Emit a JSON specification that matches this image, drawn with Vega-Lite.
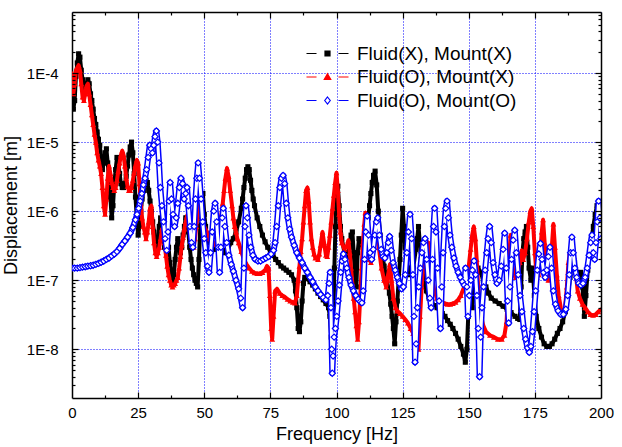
{
"$schema": "https://vega.github.io/schema/vega-lite/v6.json",
"width": 529, "height": 386,
"autosize": {"type": "none"},
"padding": {"left": 72, "top": 12, "right": 21, "bottom": 49},
"config": {"view": {"stroke": null}, "font": "Liberation Sans", "axis": {"labelColor": "black", "titleColor": "black", "tickColor": "black", "domainColor": "black", "titleFontWeight": "normal"}},
"datasets": {
"black": [
{"f":0,"v":5e-5},{"f":0.5,"v":3e-5},{"f":1,"v":4e-5},{"f":1.5,"v":9e-5},{"f":2,"v":1.4e-4},{"f":2.5,"v":1.9e-4},{"f":3,"v":1.7e-4},{"f":3.5,"v":1.1e-4},{"f":4,"v":8e-5},{"f":4.5,"v":6e-5},{"f":5,"v":5.5e-5},{"f":5.5,"v":7e-5},{"f":6,"v":8e-5},{"f":6.5,"v":7e-5},{"f":7,"v":5e-5},{"f":7.5,"v":4e-5},{"f":8,"v":3e-5},{"f":8.5,"v":2.2e-5},{"f":9,"v":1.8e-5},{"f":9.5,"v":1.4e-5},{"f":10,"v":1.1e-5},{"f":10.5,"v":9e-6},{"f":11,"v":6e-6},{"f":11.5,"v":4e-6},{"f":12,"v":5e-6},{"f":12.5,"v":7e-6},{"f":13,"v":8e-6},{"f":13.5,"v":5e-6},{"f":14,"v":3e-6},{"f":14.5,"v":1.6e-6},{"f":15,"v":8e-7},{"f":15.5,"v":1.2e-6},{"f":16,"v":2.5e-6},{"f":16.5,"v":4e-6},{"f":17,"v":6e-6},{"f":17.5,"v":5e-6},{"f":18,"v":3.5e-6},{"f":18.5,"v":2.5e-6},{"f":19,"v":2.2e-6},{"f":19.5,"v":2.2e-6},{"f":20,"v":2.5e-6},{"f":20.5,"v":3.2e-6},{"f":21,"v":4.5e-6},{"f":21.5,"v":6.5e-6},{"f":22,"v":8.5e-6},{"f":22.5,"v":1e-5},{"f":23,"v":7e-6},{"f":23.5,"v":3.5e-6},{"f":24,"v":1.6e-6},{"f":24.5,"v":8e-7},{"f":25,"v":4.5e-7},{"f":25.5,"v":6e-7},{"f":26,"v":1e-6},{"f":26.5,"v":1.5e-6},{"f":27,"v":2e-6},{"f":27.5,"v":2.5e-6},{"f":28,"v":2.8e-6},{"f":28.5,"v":2.6e-6},{"f":29,"v":2e-6},{"f":29.5,"v":1.4e-6},{"f":30,"v":1e-6},{"f":30.5,"v":7e-7},{"f":31,"v":5e-7},{"f":31.5,"v":3.5e-7},{"f":32,"v":3e-7},{"f":32.5,"v":4e-7},{"f":33,"v":6e-7},{"f":33.5,"v":8e-7},{"f":34,"v":6e-7},{"f":34.5,"v":4e-7},{"f":35,"v":3e-7},{"f":35.5,"v":3.5e-7},{"f":36,"v":4.5e-7},{"f":36.5,"v":3e-7},{"f":37,"v":1.8e-7},{"f":37.5,"v":1.2e-7},{"f":38,"v":9e-8},{"f":38.5,"v":1.2e-7},{"f":39,"v":2e-7},{"f":39.5,"v":3e-7},{"f":40,"v":4e-7},{"f":40.5,"v":3e-7},{"f":41,"v":2.5e-7},{"f":41.5,"v":3e-7},{"f":42,"v":4.5e-7},{"f":42.5,"v":6e-7},{"f":43,"v":8e-7},{"f":43.5,"v":8e-7},{"f":44,"v":5e-7},{"f":44.5,"v":3e-7},{"f":45,"v":2e-7},{"f":45.5,"v":1.5e-7},{"f":46,"v":1.2e-7},{"f":46.5,"v":1e-7},{"f":47,"v":9e-8},{"f":47.5,"v":8e-8},{"f":48,"v":2e-7},{"f":48.5,"v":6e-7},{"f":49,"v":1.6e-6},{"f":49.5,"v":1.8e-6},{"f":50,"v":9e-7},{"f":50.5,"v":6e-7},{"f":51,"v":4.5e-7},{"f":52,"v":3.5e-7},{"f":53,"v":3e-7},{"f":54,"v":2.8e-7},{"f":55,"v":2.8e-7},{"f":56,"v":2.8e-7},{"f":57,"v":2.7e-7},{"f":58,"v":2.5e-7},{"f":59,"v":2.8e-7},{"f":60,"v":3.5e-7},{"f":61,"v":4e-7},{"f":62,"v":5e-7},{"f":63,"v":7e-7},{"f":64,"v":1.1e-6},{"f":64.5,"v":1.5e-6},{"f":65,"v":2.2e-6},{"f":65.5,"v":3e-6},{"f":66,"v":4e-6},{"f":66.5,"v":4.4e-6},{"f":67,"v":4e-6},{"f":67.5,"v":2.8e-6},{"f":68,"v":2e-6},{"f":68.5,"v":1.5e-6},{"f":69,"v":1.2e-6},{"f":70,"v":8e-7},{"f":71,"v":6e-7},{"f":72,"v":4.5e-7},{"f":73,"v":3.6e-7},{"f":74,"v":3e-7},{"f":75,"v":2.6e-7},{"f":76,"v":2.3e-7},{"f":77,"v":2e-7},{"f":78,"v":1.8e-7},{"f":79,"v":1.6e-7},{"f":80,"v":1.5e-7},{"f":81,"v":1.4e-7},{"f":82,"v":1.3e-7},{"f":83,"v":1.2e-7},{"f":84,"v":1e-7},{"f":84.5,"v":7e-8},{"f":85,"v":4e-8},{"f":85.5,"v":2e-8},{"f":86,"v":1.8e-8},{"f":86.5,"v":2.5e-8},{"f":87,"v":5e-8},{"f":87.5,"v":9e-8},{"f":88,"v":1.1e-7},{"f":89,"v":1.05e-7},{"f":90,"v":9.5e-8},{"f":91,"v":8.5e-8},{"f":92,"v":7.5e-8},{"f":93,"v":6.5e-8},{"f":94,"v":5.8e-8},{"f":95,"v":5.2e-8},{"f":96,"v":4.6e-8},{"f":97,"v":4e-8},{"f":97.5,"v":3e-8},{"f":98,"v":1.5e-8},{"f":98.4,"v":8e-9},{"f":98.8,"v":3e-8},{"f":99.2,"v":1.5e-7},{"f":99.6,"v":6e-7},{"f":100,"v":1.4e-6},{"f":100.5,"v":2.3e-6},{"f":101,"v":1.2e-6},{"f":101.5,"v":6e-7},{"f":102,"v":4e-7},{"f":103,"v":2.5e-7},{"f":104,"v":2.2e-7},{"f":105,"v":3e-7},{"f":105.5,"v":4.5e-7},{"f":106,"v":5e-7},{"f":106.5,"v":2.5e-7},{"f":107,"v":1.2e-7},{"f":107.5,"v":8e-8},{"f":108,"v":2.5e-7},{"f":108.5,"v":4e-7},{"f":109,"v":3.5e-7},{"f":110,"v":3e-7},{"f":110.5,"v":3.5e-7},{"f":111,"v":4.5e-7},{"f":111.5,"v":6e-7},{"f":112,"v":8e-7},{"f":112.5,"v":1.2e-6},{"f":113,"v":1.8e-6},{"f":113.5,"v":2.6e-6},{"f":114,"v":3.3e-6},{"f":114.6,"v":3.8e-6},{"f":115.2,"v":2.4e-6},{"f":115.8,"v":1e-6},{"f":116.5,"v":4.5e-7},{"f":117,"v":2.8e-7},{"f":118,"v":1.6e-7},{"f":119,"v":1e-7},{"f":120,"v":6.5e-8},{"f":120.5,"v":4.5e-8},{"f":121,"v":3e-8},{"f":121.5,"v":2e-8},{"f":122,"v":1.2e-8},{"f":122.5,"v":2.5e-8},{"f":123,"v":5e-8},{"f":123.5,"v":1e-7},{"f":124,"v":2e-7},{"f":124.5,"v":4.5e-7},{"f":125,"v":1.1e-6},{"f":125.5,"v":6e-7},{"f":126,"v":3e-7},{"f":126.5,"v":2e-7},{"f":127,"v":1.5e-7},{"f":128,"v":1.2e-7},{"f":129,"v":1.5e-7},{"f":130,"v":2.8e-7},{"f":130.5,"v":4e-7},{"f":131,"v":6e-7},{"f":131.5,"v":3.5e-7},{"f":132,"v":2e-7},{"f":132.5,"v":1.4e-7},{"f":133,"v":1e-7},{"f":134,"v":7e-8},{"f":135,"v":5.5e-8},{"f":136,"v":4.8e-8},{"f":137,"v":4.3e-8},{"f":138,"v":4e-8},{"f":139,"v":3.6e-8},{"f":140,"v":3.3e-8},{"f":141,"v":3e-8},{"f":142,"v":2.6e-8},{"f":143,"v":2.3e-8},{"f":144,"v":2e-8},{"f":145,"v":1.7e-8},{"f":146,"v":1.4e-8},{"f":147,"v":1.1e-8},{"f":148,"v":8.5e-9},{"f":148.7,"v":6.5e-9},{"f":149.3,"v":1e-8},{"f":149.8,"v":3e-8},{"f":150.3,"v":9e-8},{"f":150.8,"v":6e-8},{"f":151.3,"v":4e-8},{"f":152,"v":7e-8},{"f":152.7,"v":1.2e-7},{"f":153.5,"v":1.5e-7},{"f":154.5,"v":1.3e-7},{"f":155.5,"v":1e-7},{"f":156.5,"v":8e-8},{"f":157.5,"v":6.5e-8},{"f":158.5,"v":5.5e-8},{"f":160,"v":5e-8},{"f":161.5,"v":4.6e-8},{"f":163,"v":4.2e-8},{"f":164.5,"v":3.8e-8},{"f":166,"v":3.4e-8},{"f":167.5,"v":3e-8},{"f":168.5,"v":2.8e-8},{"f":169.3,"v":2.7e-8},{"f":169.8,"v":8e-8},{"f":170.3,"v":2.5e-7},{"f":170.8,"v":4e-7},{"f":171.3,"v":5e-7},{"f":171.8,"v":6e-7},{"f":172.3,"v":3e-7},{"f":172.8,"v":1.5e-7},{"f":173.5,"v":1e-7},{"f":174.2,"v":1.5e-7},{"f":174.8,"v":6e-8},{"f":175.5,"v":3e-8},{"f":176.5,"v":2e-8},{"f":177.5,"v":1.5e-8},{"f":178.5,"v":1.2e-8},{"f":179.5,"v":1.1e-8},{"f":180.5,"v":1.1e-8},{"f":181.5,"v":1.2e-8},{"f":182.5,"v":1.4e-8},{"f":183.5,"v":1.7e-8},{"f":184.5,"v":2e-8},{"f":185.5,"v":2.5e-8},{"f":186.5,"v":3.5e-8},{"f":187.5,"v":6e-8},{"f":188.3,"v":1.1e-7},{"f":189,"v":1.8e-7},{"f":189.5,"v":2.3e-7},{"f":190,"v":1.8e-7},{"f":190.8,"v":1.3e-7},{"f":191.5,"v":1.1e-7},{"f":192.3,"v":1.3e-7},{"f":193,"v":8e-8},{"f":193.7,"v":3e-8},{"f":194.3,"v":6e-8},{"f":195,"v":1.4e-7},{"f":195.7,"v":2.5e-7},{"f":196.4,"v":4e-7},{"f":197.1,"v":6e-7},{"f":197.8,"v":9e-7},{"f":198.5,"v":1.2e-6},{"f":199.1,"v":1.3e-6},{"f":199.6,"v":9e-7},{"f":200,"v":6e-7}
],
"red": [
{"f":0,"v":1e-4},{"f":0.5,"v":5e-5},{"f":1,"v":7e-5},{"f":1.5,"v":1.1e-4},{"f":2,"v":1.2e-4},{"f":2.5,"v":1.3e-4},{"f":3,"v":1.1e-4},{"f":3.5,"v":7e-5},{"f":4,"v":4.5e-5},{"f":4.5,"v":4e-5},{"f":5,"v":5e-5},{"f":5.5,"v":6.5e-5},{"f":6,"v":7e-5},{"f":6.5,"v":5e-5},{"f":7,"v":3.5e-5},{"f":7.5,"v":2.5e-5},{"f":8,"v":1.8e-5},{"f":8.5,"v":1.3e-5},{"f":9,"v":1e-5},{"f":9.5,"v":7e-6},{"f":10,"v":5.5e-6},{"f":10.5,"v":4.5e-6},{"f":11,"v":3.5e-6},{"f":11.5,"v":2.2e-6},{"f":12,"v":1.2e-6},{"f":12.5,"v":9e-7},{"f":13,"v":1.5e-6},{"f":13.5,"v":3e-6},{"f":14,"v":4.5e-6},{"f":14.5,"v":3.5e-6},{"f":15,"v":2.6e-6},{"f":15.5,"v":2.2e-6},{"f":16,"v":2e-6},{"f":16.5,"v":2.2e-6},{"f":17,"v":2.8e-6},{"f":17.5,"v":3.8e-6},{"f":18,"v":5e-6},{"f":18.5,"v":6.5e-6},{"f":19,"v":7.5e-6},{"f":19.5,"v":6.5e-6},{"f":20,"v":4.5e-6},{"f":20.5,"v":3e-6},{"f":21,"v":2.3e-6},{"f":21.5,"v":2e-6},{"f":22,"v":2e-6},{"f":22.5,"v":2.2e-6},{"f":23,"v":2.8e-6},{"f":23.5,"v":3.6e-6},{"f":24,"v":4.6e-6},{"f":24.5,"v":5.5e-6},{"f":25,"v":5e-6},{"f":25.5,"v":2.5e-6},{"f":26,"v":1.3e-6},{"f":26.5,"v":8e-7},{"f":27,"v":6e-7},{"f":27.5,"v":5e-7},{"f":28,"v":4e-7},{"f":28.5,"v":5e-7},{"f":29,"v":7e-7},{"f":29.5,"v":1.1e-6},{"f":30,"v":1.2e-6},{"f":30.5,"v":6e-7},{"f":31,"v":3.5e-7},{"f":31.5,"v":2.5e-7},{"f":32,"v":2.2e-7},{"f":32.5,"v":2.5e-7},{"f":33,"v":3e-7},{"f":33.5,"v":4e-7},{"f":34,"v":5.5e-7},{"f":34.5,"v":5e-7},{"f":35,"v":3.5e-7},{"f":35.5,"v":2.3e-7},{"f":36,"v":1.6e-7},{"f":36.5,"v":1.2e-7},{"f":37,"v":1e-7},{"f":37.5,"v":8.5e-8},{"f":38,"v":8e-8},{"f":38.5,"v":8.5e-8},{"f":39,"v":9e-8},{"f":39.5,"v":1e-7},{"f":40,"v":1.1e-7},{"f":40.5,"v":1.5e-7},{"f":41,"v":2.2e-7},{"f":41.5,"v":3.2e-7},{"f":42,"v":4.2e-7},{"f":42.5,"v":5.5e-7},{"f":43,"v":7e-7},{"f":43.5,"v":8.5e-7},{"f":44,"v":9.5e-7},{"f":44.5,"v":8e-7},{"f":45,"v":5e-7},{"f":45.5,"v":3.5e-7},{"f":46,"v":3e-7},{"f":46.5,"v":4e-7},{"f":47,"v":6e-7},{"f":47.5,"v":1e-6},{"f":48,"v":1.6e-6},{"f":48.5,"v":1.2e-6},{"f":49,"v":8e-7},{"f":49.5,"v":6.5e-7},{"f":50,"v":6e-7},{"f":50.5,"v":5.5e-7},{"f":51,"v":5e-7},{"f":52,"v":4e-7},{"f":53,"v":3.3e-7},{"f":54,"v":3.3e-7},{"f":55,"v":4e-7},{"f":55.5,"v":5e-7},{"f":56,"v":6.5e-7},{"f":56.5,"v":9e-7},{"f":57,"v":1.3e-6},{"f":57.5,"v":2e-6},{"f":58,"v":3e-6},{"f":58.6,"v":4.2e-6},{"f":59.2,"v":3.2e-6},{"f":59.8,"v":2e-6},{"f":60.5,"v":1.2e-6},{"f":61,"v":8e-7},{"f":61.5,"v":6e-7},{"f":62,"v":5e-7},{"f":62.5,"v":4e-7},{"f":63,"v":3.5e-7},{"f":64,"v":2.6e-7},{"f":65,"v":2e-7},{"f":66,"v":1.7e-7},{"f":67,"v":1.5e-7},{"f":68,"v":1.35e-7},{"f":69,"v":1.28e-7},{"f":70,"v":1.25e-7},{"f":71,"v":1.25e-7},{"f":72,"v":1.3e-7},{"f":73,"v":1.4e-7},{"f":73.7,"v":1.6e-7},{"f":74.3,"v":1.5e-7},{"f":74.8,"v":6e-8},{"f":75.3,"v":2e-8},{"f":75.7,"v":1.4e-8},{"f":76.2,"v":3e-8},{"f":76.8,"v":7e-8},{"f":77.5,"v":7.5e-8},{"f":78.5,"v":6.5e-8},{"f":79.5,"v":6e-8},{"f":80.5,"v":5.7e-8},{"f":81.5,"v":5.3e-8},{"f":82.5,"v":5e-8},{"f":83.5,"v":4.8e-8},{"f":84.3,"v":4.7e-8},{"f":85,"v":6e-8},{"f":85.5,"v":1e-7},{"f":86,"v":1.6e-7},{"f":86.5,"v":2.6e-7},{"f":87,"v":4e-7},{"f":87.5,"v":7e-7},{"f":88,"v":1.2e-6},{"f":88.5,"v":2e-6},{"f":89,"v":2.2e-6},{"f":89.5,"v":1.4e-6},{"f":90,"v":7e-7},{"f":90.5,"v":4e-7},{"f":91,"v":3e-7},{"f":91.5,"v":2.4e-7},{"f":92,"v":2.1e-7},{"f":93,"v":2e-7},{"f":93.5,"v":2.4e-7},{"f":94,"v":3.2e-7},{"f":94.7,"v":5e-7},{"f":95.3,"v":3.5e-7},{"f":96,"v":2.3e-7},{"f":96.5,"v":2.2e-7},{"f":97,"v":3e-7},{"f":97.5,"v":4.5e-7},{"f":98,"v":7e-7},{"f":98.5,"v":1.1e-6},{"f":99,"v":1.7e-6},{"f":99.5,"v":2.6e-6},{"f":100,"v":3.6e-6},{"f":100.5,"v":2e-6},{"f":101,"v":9e-7},{"f":101.5,"v":5e-7},{"f":102,"v":3.5e-7},{"f":103,"v":2.8e-7},{"f":104,"v":3.2e-7},{"f":104.5,"v":3.8e-7},{"f":105,"v":2.5e-7},{"f":105.5,"v":1.5e-7},{"f":106,"v":9e-8},{"f":106.5,"v":5.5e-8},{"f":107,"v":3.5e-8},{"f":107.5,"v":2.2e-8},{"f":108,"v":1.4e-8},{"f":108.5,"v":2.5e-8},{"f":109,"v":6e-8},{"f":109.5,"v":1.5e-7},{"f":110,"v":3.5e-7},{"f":110.5,"v":6.5e-7},{"f":110.9,"v":9.5e-7},{"f":111.4,"v":6e-7},{"f":112,"v":3e-7},{"f":112.5,"v":2e-7},{"f":113,"v":1.8e-7},{"f":113.5,"v":2.2e-7},{"f":114,"v":3.5e-7},{"f":114.5,"v":5.5e-7},{"f":115,"v":7.5e-7},{"f":115.5,"v":5e-7},{"f":116,"v":3e-7},{"f":117,"v":1.5e-7},{"f":118,"v":1e-7},{"f":118.8,"v":8e-8},{"f":119.5,"v":1.2e-7},{"f":120.2,"v":1.7e-7},{"f":120.8,"v":1e-7},{"f":121.5,"v":5.5e-8},{"f":122.3,"v":4e-8},{"f":123,"v":3.6e-8},{"f":124,"v":3.3e-8},{"f":125,"v":3e-8},{"f":126,"v":2.7e-8},{"f":127,"v":2.4e-8},{"f":128,"v":2e-8},{"f":129,"v":1.7e-8},{"f":130,"v":1.3e-8},{"f":131,"v":1e-8},{"f":131.6,"v":3e-8},{"f":132.2,"v":8e-8},{"f":132.8,"v":1.6e-7},{"f":133.5,"v":2.5e-7},{"f":134.2,"v":3.3e-7},{"f":134.7,"v":3.5e-7},{"f":135.3,"v":2e-7},{"f":136,"v":1.1e-7},{"f":137,"v":7e-8},{"f":138,"v":5.5e-8},{"f":139,"v":5e-8},{"f":140,"v":4.8e-8},{"f":141,"v":4.6e-8},{"f":142,"v":4.5e-8},{"f":143,"v":4.5e-8},{"f":144,"v":4.6e-8},{"f":145,"v":4.8e-8},{"f":146,"v":5.2e-8},{"f":147,"v":6e-8},{"f":148,"v":7.5e-8},{"f":149,"v":1e-7},{"f":150,"v":1.6e-7},{"f":150.7,"v":2.8e-7},{"f":151.3,"v":4.5e-7},{"f":151.9,"v":6e-7},{"f":152.5,"v":4e-7},{"f":153,"v":2e-7},{"f":153.5,"v":9e-8},{"f":154,"v":5e-8},{"f":154.7,"v":3e-8},{"f":155.5,"v":2.2e-8},{"f":156.5,"v":1.8e-8},{"f":158,"v":1.6e-8},{"f":159.5,"v":1.5e-8},{"f":161,"v":1.4e-8},{"f":162.5,"v":1.4e-8},{"f":163.5,"v":1.6e-8},{"f":164.3,"v":2.5e-8},{"f":164.9,"v":8e-8},{"f":165.4,"v":2.5e-7},{"f":165.8,"v":4.5e-7},{"f":166.3,"v":2e-7},{"f":167,"v":1.2e-7},{"f":167.8,"v":1.1e-7},{"f":168.5,"v":1.3e-7},{"f":169.3,"v":1.8e-7},{"f":170,"v":2.7e-7},{"f":170.6,"v":2e-7},{"f":171.3,"v":2.5e-7},{"f":172,"v":4e-7},{"f":172.7,"v":7e-7},{"f":173.3,"v":1e-6},{"f":173.8,"v":1.1e-6},{"f":174.4,"v":6e-7},{"f":175,"v":2.5e-7},{"f":175.7,"v":1.1e-7},{"f":176.4,"v":1.2e-7},{"f":177,"v":2.5e-7},{"f":177.6,"v":5e-7},{"f":178.1,"v":7.5e-7},{"f":178.7,"v":3.5e-7},{"f":179.4,"v":1.3e-7},{"f":180.1,"v":1e-7},{"f":180.8,"v":1.5e-7},{"f":181.4,"v":3e-7},{"f":182,"v":6.5e-7},{"f":182.6,"v":3e-7},{"f":183.3,"v":1.2e-7},{"f":184,"v":6e-8},{"f":184.8,"v":4e-8},{"f":185.6,"v":3.3e-8},{"f":186.4,"v":4e-8},{"f":187.1,"v":8e-8},{"f":187.7,"v":1.8e-7},{"f":188.3,"v":2.5e-7},{"f":189,"v":1.5e-7},{"f":189.7,"v":2.2e-7},{"f":190.4,"v":1.3e-7},{"f":191.2,"v":7e-8},{"f":192,"v":5.5e-8},{"f":193,"v":4.5e-8},{"f":194,"v":4e-8},{"f":195,"v":3.5e-8},{"f":196,"v":3.2e-8},{"f":197,"v":3.1e-8},{"f":198,"v":3.2e-8},{"f":199,"v":3.5e-8},{"f":200,"v":3.8e-8}
],
"blue": [
{"f":0,"v":1.5e-7},{"f":1,"v":1.5e-7},{"f":2,"v":1.5e-7},{"f":3,"v":1.52e-7},{"f":4,"v":1.55e-7},{"f":5,"v":1.57e-7},{"f":6,"v":1.6e-7},{"f":7,"v":1.62e-7},{"f":8,"v":1.65e-7},{"f":9,"v":1.7e-7},{"f":10,"v":1.75e-7},{"f":11,"v":1.82e-7},{"f":12,"v":1.9e-7},{"f":13,"v":2e-7},{"f":14,"v":2.1e-7},{"f":15,"v":2.25e-7},{"f":16,"v":2.4e-7},{"f":17,"v":2.6e-7},{"f":18,"v":2.9e-7},{"f":19,"v":3.3e-7},{"f":20,"v":3.7e-7},{"f":21,"v":4.2e-7},{"f":22,"v":4.8e-7},{"f":23,"v":5.8e-7},{"f":24,"v":7.5e-7},{"f":24.6,"v":9e-7},{"f":25.2,"v":1.1e-6},{"f":25.8,"v":1.4e-6},{"f":26.4,"v":1.8e-6},{"f":27,"v":2.4e-6},{"f":27.6,"v":3e-6},{"f":28.2,"v":4e-6},{"f":28.8,"v":6e-6},{"f":29.4,"v":9e-6},{"f":29.9,"v":8e-6},{"f":30.4,"v":7e-6},{"f":30.9,"v":9e-6},{"f":31.4,"v":1.2e-5},{"f":31.9,"v":1.45e-5},{"f":32.4,"v":1e-5},{"f":32.9,"v":5e-6},{"f":33.4,"v":2.2e-6},{"f":34,"v":1.2e-6},{"f":34.6,"v":7e-7},{"f":35.2,"v":4e-7},{"f":35.8,"v":2.7e-7},{"f":36.3,"v":5e-7},{"f":36.7,"v":1.4e-6},{"f":37.1,"v":2.6e-6},{"f":37.6,"v":1.5e-6},{"f":38.2,"v":9e-7},{"f":38.8,"v":6e-7},{"f":39.4,"v":8e-7},{"f":40,"v":1.3e-6},{"f":40.6,"v":2.2e-6},{"f":41.2,"v":3e-6},{"f":41.8,"v":2.5e-6},{"f":42.4,"v":1.5e-6},{"f":43,"v":1.8e-6},{"f":43.5,"v":2.2e-6},{"f":44,"v":1.2e-6},{"f":44.6,"v":6e-7},{"f":45.2,"v":3.5e-7},{"f":45.7,"v":3e-7},{"f":46.2,"v":6e-7},{"f":46.7,"v":1.5e-6},{"f":47.2,"v":3e-6},{"f":47.7,"v":5e-6},{"f":48.2,"v":3e-6},{"f":48.8,"v":1.5e-6},{"f":49.4,"v":7e-7},{"f":50,"v":4e-7},{"f":50.6,"v":2.5e-7},{"f":51.2,"v":1.6e-7},{"f":51.8,"v":1.3e-7},{"f":52.4,"v":2.5e-7},{"f":53,"v":5e-7},{"f":53.6,"v":1e-6},{"f":54.1,"v":1.3e-6},{"f":54.7,"v":7e-7},{"f":55.3,"v":3e-7},{"f":55.8,"v":1.3e-7},{"f":56.3,"v":3e-7},{"f":56.8,"v":8e-7},{"f":57.2,"v":1.1e-6},{"f":57.8,"v":6e-7},{"f":58.5,"v":3.5e-7},{"f":59.3,"v":2.3e-7},{"f":60.2,"v":1.7e-7},{"f":61,"v":1.35e-7},{"f":62,"v":1e-7},{"f":63,"v":7.5e-8},{"f":63.8,"v":5.5e-8},{"f":64.5,"v":4e-8},{"f":65,"v":1.5e-7},{"f":65.4,"v":6e-7},{"f":65.8,"v":1.2e-6},{"f":66.3,"v":8e-7},{"f":66.9,"v":4.5e-7},{"f":67.6,"v":3e-7},{"f":68.4,"v":2.3e-7},{"f":69.3,"v":2e-7},{"f":70.3,"v":1.9e-7},{"f":71.3,"v":1.9e-7},{"f":72.3,"v":2e-7},{"f":73.3,"v":2.1e-7},{"f":74.3,"v":2.2e-7},{"f":75.3,"v":2.4e-7},{"f":76.2,"v":2.7e-7},{"f":76.8,"v":3.5e-7},{"f":77.4,"v":6e-7},{"f":78,"v":1.2e-6},{"f":78.6,"v":2.2e-6},{"f":79.2,"v":3e-6},{"f":79.8,"v":3.3e-6},{"f":80.4,"v":2.5e-6},{"f":81,"v":1.3e-6},{"f":81.6,"v":8e-7},{"f":82.3,"v":5.5e-7},{"f":83,"v":4.2e-7},{"f":84,"v":3.2e-7},{"f":85,"v":2.5e-7},{"f":86,"v":2.1e-7},{"f":87,"v":1.8e-7},{"f":88,"v":1.5e-7},{"f":89,"v":1.3e-7},{"f":90,"v":1.1e-7},{"f":91,"v":9.5e-8},{"f":92,"v":8e-8},{"f":93,"v":7e-8},{"f":94,"v":6.2e-8},{"f":95,"v":5.6e-8},{"f":96,"v":5.2e-8},{"f":96.7,"v":6e-8},{"f":97.2,"v":9e-8},{"f":97.6,"v":1.3e-7},{"f":97.9,"v":4e-8},{"f":98.2,"v":1e-8},{"f":98.4,"v":4.5e-9},{"f":98.7,"v":8e-9},{"f":99.1,"v":1.5e-8},{"f":99.6,"v":2e-8},{"f":100.1,"v":3e-8},{"f":100.6,"v":5e-8},{"f":101.1,"v":8.5e-8},{"f":101.6,"v":1.3e-7},{"f":102.1,"v":1.9e-7},{"f":102.6,"v":2.4e-7},{"f":103.2,"v":2e-7},{"f":103.9,"v":1.5e-7},{"f":104.7,"v":1.1e-7},{"f":105.5,"v":8.5e-8},{"f":106.4,"v":7e-8},{"f":107.3,"v":6e-8},{"f":108.2,"v":5.3e-8},{"f":109,"v":4.9e-8},{"f":109.6,"v":4.7e-8},{"f":110.1,"v":7e-8},{"f":110.6,"v":2e-7},{"f":111.1,"v":5e-7},{"f":111.6,"v":8.5e-7},{"f":112.1,"v":4.5e-7},{"f":112.7,"v":2.5e-7},{"f":113.3,"v":2e-7},{"f":113.9,"v":2.8e-7},{"f":114.5,"v":4.5e-7},{"f":115.1,"v":7e-7},{"f":115.6,"v":8e-7},{"f":116.2,"v":4.5e-7},{"f":116.9,"v":2.8e-7},{"f":117.6,"v":2.2e-7},{"f":118.3,"v":2.1e-7},{"f":119,"v":2.5e-7},{"f":119.6,"v":3.5e-7},{"f":120.1,"v":4.3e-7},{"f":120.7,"v":2.7e-7},{"f":121.4,"v":1.8e-7},{"f":122.2,"v":1.4e-7},{"f":123,"v":1.1e-7},{"f":123.8,"v":9e-8},{"f":124.6,"v":7.5e-8},{"f":125.3,"v":8e-8},{"f":126,"v":1.2e-7},{"f":126.6,"v":2.5e-7},{"f":127.2,"v":5e-7},{"f":127.8,"v":9e-7},{"f":128.4,"v":4e-7},{"f":128.9,"v":1.2e-7},{"f":129.3,"v":3e-8},{"f":129.7,"v":6.5e-9},{"f":130.1,"v":1.2e-8},{"f":130.6,"v":4e-8},{"f":131.1,"v":8e-8},{"f":131.7,"v":1.5e-7},{"f":132.3,"v":2.5e-7},{"f":132.9,"v":3.5e-7},{"f":133.5,"v":4e-7},{"f":134.1,"v":2e-7},{"f":134.7,"v":1e-7},{"f":135.3,"v":5.5e-8},{"f":135.8,"v":4e-8},{"f":136.3,"v":2e-7},{"f":136.7,"v":6e-7},{"f":137.1,"v":1.1e-6},{"f":137.6,"v":5e-7},{"f":138.2,"v":1.5e-7},{"f":138.8,"v":5e-8},{"f":139.3,"v":2e-8},{"f":139.8,"v":8e-8},{"f":140.3,"v":2.5e-7},{"f":140.8,"v":6e-7},{"f":141.3,"v":1.1e-6},{"f":141.8,"v":1.4e-6},{"f":142.3,"v":8e-7},{"f":142.9,"v":4.5e-7},{"f":143.6,"v":3e-7},{"f":144.4,"v":2.1e-7},{"f":145.2,"v":1.6e-7},{"f":146,"v":1.3e-7},{"f":146.8,"v":1.1e-7},{"f":147.6,"v":9.5e-8},{"f":148.3,"v":8.5e-8},{"f":148.8,"v":1.5e-7},{"f":149.3,"v":8e-8},{"f":149.7,"v":3e-8},{"f":150.2,"v":6e-8},{"f":150.8,"v":1e-7},{"f":151.4,"v":1.4e-7},{"f":152,"v":1.9e-7},{"f":152.6,"v":1.2e-7},{"f":153.1,"v":6e-8},{"f":153.6,"v":2e-8},{"f":154.1,"v":4e-9},{"f":154.5,"v":1.5e-8},{"f":155,"v":4e-8},{"f":155.6,"v":8e-8},{"f":156.2,"v":1.4e-7},{"f":156.8,"v":2.5e-7},{"f":157.3,"v":4e-7},{"f":157.9,"v":6e-7},{"f":158.5,"v":3.5e-7},{"f":159.2,"v":1.8e-7},{"f":159.9,"v":1.2e-7},{"f":160.7,"v":9e-8},{"f":161.5,"v":1e-7},{"f":162.3,"v":1.6e-7},{"f":163,"v":2.8e-7},{"f":163.6,"v":4.8e-7},{"f":164.2,"v":1.5e-7},{"f":164.7,"v":5e-8},{"f":165.1,"v":2.4e-8},{"f":165.6,"v":8e-8},{"f":166.2,"v":2e-7},{"f":166.8,"v":3.8e-7},{"f":167.4,"v":5.3e-7},{"f":168,"v":2.5e-7},{"f":168.7,"v":1.2e-7},{"f":169.4,"v":6e-8},{"f":170.1,"v":3.5e-8},{"f":170.8,"v":2e-8},{"f":171.5,"v":1.4e-8},{"f":172.2,"v":1.05e-8},{"f":172.9,"v":9e-9},{"f":173.5,"v":1.1e-8},{"f":174.1,"v":1.8e-8},{"f":174.7,"v":3.5e-8},{"f":175.3,"v":7e-8},{"f":175.9,"v":1.4e-7},{"f":176.5,"v":2.4e-7},{"f":177.1,"v":3.4e-7},{"f":177.7,"v":2e-7},{"f":178.3,"v":1.3e-7},{"f":178.9,"v":1.1e-7},{"f":179.5,"v":1.4e-7},{"f":180.1,"v":2.2e-7},{"f":180.7,"v":3e-7},{"f":181.3,"v":1.5e-7},{"f":182,"v":7e-8},{"f":182.8,"v":4.5e-8},{"f":183.8,"v":3.6e-8},{"f":184.8,"v":3.2e-8},{"f":185.8,"v":3.2e-8},{"f":186.7,"v":3.8e-8},{"f":187.4,"v":6e-8},{"f":188,"v":1.2e-7},{"f":188.5,"v":2.5e-7},{"f":189,"v":4.2e-7},{"f":189.5,"v":2.5e-7},{"f":190.1,"v":1.5e-7},{"f":190.8,"v":1.1e-7},{"f":191.6,"v":9e-8},{"f":192.4,"v":8.5e-8},{"f":193.2,"v":9e-8},{"f":194,"v":1.1e-7},{"f":194.8,"v":1.5e-7},{"f":195.5,"v":2.3e-7},{"f":196.1,"v":3.5e-7},{"f":196.6,"v":4.5e-7},{"f":197.1,"v":2.5e-7},{"f":197.6,"v":2e-7},{"f":198.1,"v":3.5e-7},{"f":198.6,"v":7e-7},{"f":199.1,"v":1.4e-6},{"f":199.6,"v":8e-7},{"f":200,"v":4e-7}
],
"series": [{"s":"Fluid(X), Mount(X)"},{"s":"Fluid(O), Mount(X)"},{"s":"Fluid(O), Mount(O)"}]
},
"layer": [
{"data": {"name": "black"}, "mark": {"type": "line", "color": "black", "strokeWidth": 4, "strokeJoin": "round", "clip": true},
 "encoding": {
  "x": {"field": "f", "type": "quantitative", "scale": {"domain": [0, 200], "nice": false, "zero": false},
   "axis": {"orient": "bottom", "values": [0,25,50,75,100,125,150,175,200], "ticks": false, "grid": true, "gridColor": "#0000ff", "gridDash": [1,2], "gridWidth": 1, "domain": true, "domainWidth": 1.5, "labelFontSize": 15, "labelPadding": 7, "labelFlush": false, "labelOverlap": false, "title": "Frequency [Hz]", "titleFontSize": 18, "titlePadding": 5, "zindex": 0}},
  "y": {"field": "v", "type": "quantitative", "scale": {"type": "log", "domain": [1.97e-9, 7.66e-4], "nice": false},
   "axis": {"orient": "left", "values": [1e-8,1e-7,1e-6,1e-5,1e-4], "labelExpr": "'1E' + round(log(datum.value)/LN10)", "ticks": false, "grid": true, "gridColor": "#0000ff", "gridDash": [1,2], "gridWidth": 1, "domain": true, "domainWidth": 1.5, "labelFontSize": 15, "labelPadding": 14, "labelOverlap": false, "labelFlush": false, "title": "Displacement [m]", "titleFontSize": 18, "titlePadding": 6, "zindex": 0}}
 }},
{"data": {"name": "black"}, "mark": {"type": "point", "shape": "square", "filled": true, "color": "black", "size": 26, "opacity": 1, "clip": true},
 "encoding": {
  "x": {"field": "f", "type": "quantitative", "scale": {"domain": [0, 200], "nice": false, "zero": false},
   "axis": {"orient": "bottom", "values": [25,50,75,100,125,150,175], "tickSize": -6, "tickWidth": 1.2, "labels": false, "grid": false, "domain": false, "title": null, "zindex": 1}},
  "y": {"field": "v", "type": "quantitative", "scale": {"type": "log", "domain": [1.97e-9, 7.66e-4], "nice": false},
   "axis": {"orient": "left", "values": [1e-8,1e-7,1e-6,1e-5,1e-4], "tickSize": -6, "tickWidth": 1.2, "labels": false, "grid": false, "domain": false, "title": null, "zindex": 1}}
 }},
{"data": {"name": "red"}, "mark": {"type": "line", "color": "#ff0000", "strokeWidth": 4, "strokeJoin": "round", "clip": true},
 "encoding": {
  "x": {"field": "f", "type": "quantitative", "scale": {"domain": [0, 200], "nice": false, "zero": false},
   "axis": {"orient": "bottom", "values": [12.5,37.5,62.5,87.5,112.5,137.5,162.5,187.5], "tickSize": -3, "tickWidth": 1.2, "labels": false, "grid": false, "domain": false, "title": null, "zindex": 1}},
  "y": {"field": "v", "type": "quantitative", "scale": {"type": "log", "domain": [1.97e-9, 7.66e-4], "nice": false},
   "axis": {"orient": "left", "values": [3e-9,4e-9,5e-9,6e-9,7e-9,8e-9,9e-9,2e-8,3e-8,4e-8,5e-8,6e-8,7e-8,8e-8,9e-8,2e-7,3e-7,4e-7,5e-7,6e-7,7e-7,8e-7,9e-7,2e-6,3e-6,4e-6,5e-6,6e-6,7e-6,8e-6,9e-6,2e-5,3e-5,4e-5,5e-5,6e-5,7e-5,8e-5,9e-5,2e-4,3e-4,4e-4,5e-4,6e-4,7e-4], "tickSize": -3, "tickWidth": 1.2, "labels": false, "grid": false, "domain": false, "title": null, "zindex": 1}}
 }},
{"data": {"name": "red"}, "mark": {"type": "point", "shape": "triangle-up", "filled": true, "color": "#ff0000", "size": 34, "opacity": 1, "clip": true},
 "encoding": {
  "x": {"field": "f", "type": "quantitative", "scale": {"domain": [0, 200], "nice": false, "zero": false},
   "axis": {"orient": "top", "values": [25,50,75,100,125,150,175], "tickSize": -6, "tickWidth": 1.2, "labels": false, "grid": false, "domain": true, "domainWidth": 1.5, "title": null, "zindex": 1}},
  "y": {"field": "v", "type": "quantitative", "scale": {"type": "log", "domain": [1.97e-9, 7.66e-4], "nice": false},
   "axis": {"orient": "right", "values": [1e-8,1e-7,1e-6,1e-5,1e-4], "tickSize": -6, "tickWidth": 1.2, "labels": false, "grid": false, "domain": true, "domainWidth": 1.5, "title": null, "zindex": 1}}
 }},
{"data": {"name": "blue"}, "mark": {"type": "line", "color": "#0000ff", "strokeWidth": 6, "strokeJoin": "round", "clip": true},
 "encoding": {
  "x": {"field": "f", "type": "quantitative", "scale": {"domain": [0, 200], "nice": false, "zero": false},
   "axis": {"orient": "top", "values": [12.5,37.5,62.5,87.5,112.5,137.5,162.5,187.5], "tickSize": -3, "tickWidth": 1.2, "labels": false, "grid": false, "domain": false, "title": null, "zindex": 1}},
  "y": {"field": "v", "type": "quantitative", "scale": {"type": "log", "domain": [1.97e-9, 7.66e-4], "nice": false},
   "axis": {"orient": "right", "values": [3e-9,4e-9,5e-9,6e-9,7e-9,8e-9,9e-9,2e-8,3e-8,4e-8,5e-8,6e-8,7e-8,8e-8,9e-8,2e-7,3e-7,4e-7,5e-7,6e-7,7e-7,8e-7,9e-7,2e-6,3e-6,4e-6,5e-6,6e-6,7e-6,8e-6,9e-6,2e-5,3e-5,4e-5,5e-5,6e-5,7e-5,8e-5,9e-5,2e-4,3e-4,4e-4,5e-4,6e-4,7e-4], "tickSize": -3, "tickWidth": 1.2, "labels": false, "grid": false, "domain": false, "title": null, "zindex": 1}}
 }},
{"data": {"name": "blue"}, "mark": {"type": "line", "color": "white", "strokeWidth": 3, "strokeJoin": "round", "clip": true},
 "encoding": {
  "x": {"field": "f", "type": "quantitative", "scale": {"domain": [0, 200], "nice": false, "zero": false}, "axis": null},
  "y": {"field": "v", "type": "quantitative", "scale": {"type": "log", "domain": [1.97e-9, 7.66e-4], "nice": false}, "axis": null}
 }},
{"data": {"name": "blue"}, "mark": {"type": "point", "shape": "diamond", "filled": true, "fill": "white", "stroke": "#0000ff", "strokeWidth": 1.2, "size": 38, "opacity": 1, "clip": true},
 "encoding": {
  "x": {"field": "f", "type": "quantitative", "scale": {"domain": [0, 200], "nice": false, "zero": false}, "axis": null},
  "y": {"field": "v", "type": "quantitative", "scale": {"type": "log", "domain": [1.97e-9, 7.66e-4], "nice": false}, "axis": null}
 }},
{"data": {"name": "series"}, "mark": {"type": "point", "filled": true, "opacity": 0},
 "encoding": {
  "shape": {"field": "s", "type": "nominal",
   "scale": {"domain": ["Fluid(X), Mount(X)", "Fluid(O), Mount(X)", "Fluid(O), Mount(O)"],
    "range": ["M-4.2,0H-2.2M2.2,0H4.2M-0.5,-0.5H0.5V0.5H-0.5Z", "M-4.2,0H-2.2M2.2,0H4.2M0,-0.65L0.65,0.5H-0.65Z", "M-4.2,0H-2.2M2.2,0H4.2M0,-0.7L0.55,0L0,0.7L-0.55,0Z"]},
   "legend": {"orient": "none", "legendX": 246, "legendY": 32, "title": null, "labelFontSize": 19, "labelColor": "black", "labelLimit": 400, "labelOffset": 20, "symbolSize": 100, "symbolStrokeWidth": 1.2, "symbolOpacity": 1, "rowPadding": 3.5, "padding": 0}},
  "fill": {"field": "s", "type": "nominal", "scale": {"domain": ["Fluid(X), Mount(X)", "Fluid(O), Mount(X)", "Fluid(O), Mount(O)"], "range": ["black", "#ff0000", "white"]}},
  "stroke": {"field": "s", "type": "nominal", "scale": {"domain": ["Fluid(X), Mount(X)", "Fluid(O), Mount(X)", "Fluid(O), Mount(O)"], "range": ["black", "#ff0000", "#0000ff"]}}
 }}
],
"resolve": {"axis": {"x": "independent", "y": "independent"}}
}
